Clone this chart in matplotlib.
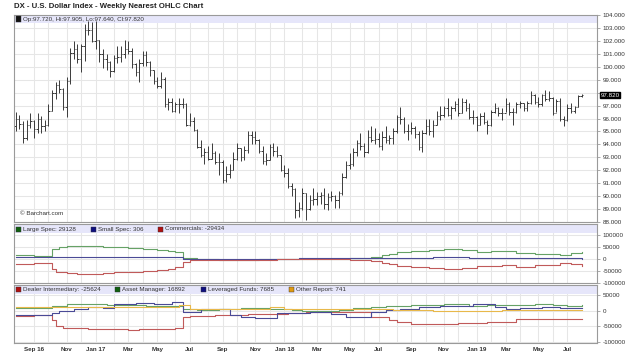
import matplotlib
matplotlib.use('Agg')
import matplotlib.pyplot as plt
from matplotlib.patches import Rectangle
from matplotlib.transforms import blended_transform_factory
import numpy as np
import pandas as pd

# weekly OHLC, weeks starting 2016-08-01
opens = [95.4, 96.0, 95.6, 94.5, 95.5, 95.8, 95.2, 96.0, 95.4, 95.5,
         96.6, 98.0, 98.6, 98.3, 96.9, 98.9, 101.1, 101.4, 100.6, 101.6,
         102.9, 102.9, 102.0, 102.1, 101.0, 100.6, 100.4, 99.7, 100.7, 100.8,
         101.0, 101.4, 101.2, 100.2, 99.6, 100.3, 100.9, 100.4, 99.8, 98.9,
         98.5, 99.1, 97.1, 97.3, 96.6, 97.1, 97.1, 97.1, 95.5, 95.8,
         95.1, 93.8, 93.2, 93.4, 92.9, 93.3, 92.6, 92.6, 91.2, 91.7,
         92.0, 92.9, 93.7, 93.0, 93.6, 94.7, 94.6, 94.3, 93.5, 92.7,
         92.8, 93.8, 93.5, 93.2, 92.0, 91.8, 90.8, 90.5, 88.9, 89.1,
         90.2, 89.0, 89.7, 89.8, 90.0, 90.1, 89.4, 89.9, 90.0, 89.7,
         90.2, 91.5, 92.4, 92.5, 93.4, 94.1, 93.9, 93.4, 94.6, 94.3,
         94.4, 93.9, 94.6, 94.3, 94.5, 95.0, 96.1, 96.0, 95.0, 95.0,
         95.3, 94.8, 93.8, 94.9, 95.4, 95.0, 95.5, 96.2, 96.3, 96.8,
         96.3, 96.8, 97.1, 96.4, 97.3, 96.8, 96.1, 96.1, 95.5, 96.2,
         95.7, 95.5, 96.5, 96.8, 96.4, 96.4, 97.1, 96.5, 96.5, 97.1,
         97.2, 96.8, 97.2, 97.8, 97.3, 97.1, 97.8, 97.5, 97.6, 96.4,
         97.4, 96.0, 95.9, 96.8, 96.6, 96.9, 97.72]
highs = [96.5, 96.3, 95.8, 95.9, 96.4, 95.9, 96.4, 96.2, 95.9, 97.1,
         98.2, 98.8, 99.0, 98.4, 99.2, 101.5, 102.0, 101.8, 101.8, 103.3,
         103.6, 103.5, 103.6, 102.1, 101.4, 101.0, 100.5, 100.9, 101.6, 101.6,
         102.1, 102.0, 101.5, 100.3, 100.6, 101.2, 101.2, 100.5, 99.8, 99.2,
         99.6, 99.2, 97.6, 97.6, 97.3, 97.6, 97.6, 97.2, 96.4, 96.1,
         95.2, 94.3, 93.7, 93.9, 94.1, 93.5, 93.3, 92.8, 92.3, 92.5,
         93.4, 94.1, 93.7, 93.9, 95.0, 95.0, 95.0, 94.4, 93.9, 93.3,
         94.0, 94.1, 93.9, 93.2, 92.4, 92.2, 91.0, 90.6, 89.5, 90.6,
         90.2, 90.1, 90.6, 90.3, 90.3, 90.6, 90.2, 90.4, 90.1, 90.4,
         91.8, 92.7, 93.3, 93.7, 94.3, 94.9, 94.1, 95.1, 95.4, 95.3,
         94.9, 95.0, 95.4, 94.7, 95.3, 96.3, 96.9, 96.1, 95.6, 95.7,
         95.4, 95.0, 95.1, 96.0, 96.0, 95.9, 96.6, 97.0, 97.0, 97.6,
         97.0, 97.4, 97.6, 97.6, 97.5, 97.2, 96.7, 96.2, 96.4, 96.5,
         95.9, 96.7, 97.2, 96.9, 96.8, 97.6, 97.3, 96.8, 97.3, 97.4,
         97.2, 97.4, 98.1, 97.9, 97.7, 97.9, 98.2, 98.1, 97.7, 97.5,
         97.6, 96.2, 97.1, 97.2, 97.0, 97.8, 97.905]
lows = [95.0, 95.2, 94.1, 94.3, 95.3, 94.5, 94.9, 94.9, 95.0, 95.4,
        96.6, 97.5, 98.0, 96.7, 96.1, 98.7, 100.6, 100.3, 99.6, 100.5,
        102.5, 101.9, 101.4, 100.4, 99.9, 99.8, 99.2, 99.6, 100.3, 100.4,
        100.7, 101.0, 99.9, 99.3, 98.8, 100.1, 100.1, 99.3, 98.7, 98.4,
        98.4, 96.9, 96.7, 96.5, 96.5, 96.4, 96.8, 95.4, 95.4, 95.0,
        93.7, 93.0, 92.5, 92.8, 92.9, 92.5, 91.6, 91.0, 91.1, 91.4,
        92.0, 92.8, 92.7, 92.8, 93.3, 94.0, 94.0, 93.3, 92.5, 92.4,
        92.8, 93.1, 93.0, 91.9, 91.5, 90.6, 90.0, 88.3, 88.4, 88.9,
        88.1, 88.9, 89.3, 89.3, 89.4, 89.0, 88.9, 89.6, 89.1, 89.1,
        90.1, 91.4, 92.1, 92.3, 93.1, 93.6, 93.0, 93.3, 94.2, 94.0,
        93.8, 93.6, 94.1, 94.0, 94.0, 94.9, 95.6, 94.9, 94.3, 94.8,
        94.5, 93.6, 93.4, 94.8, 94.7, 94.6, 95.5, 95.9, 96.1, 96.2,
        96.0, 96.6, 96.2, 96.4, 96.6, 96.0, 95.6, 95.0, 95.5, 95.6,
        94.8, 95.4, 96.4, 96.2, 95.9, 96.5, 96.3, 95.5, 96.4, 96.8,
        96.6, 96.6, 97.1, 97.1, 96.9, 97.0, 97.4, 97.4, 96.3, 96.5,
        95.8, 95.4, 95.8, 96.4, 96.4, 96.9, 97.64]
closes = [96.0, 95.6, 94.5, 95.5, 95.8, 95.2, 96.0, 95.4, 95.5, 96.6,
          98.0, 98.6, 98.3, 96.9, 98.9, 101.1, 101.4, 100.6, 101.6, 102.9,
          102.9, 102.0, 102.1, 101.0, 100.6, 100.4, 99.7, 100.7, 100.8, 101.0,
          101.4, 101.2, 100.2, 99.6, 100.3, 100.9, 100.4, 99.8, 98.9, 98.5,
          99.1, 97.1, 97.3, 96.6, 97.1, 97.1, 97.1, 95.5, 95.8, 95.1,
          93.8, 93.2, 93.4, 92.9, 93.3, 92.6, 92.6, 91.2, 91.7, 92.0,
          92.9, 93.7, 93.0, 93.6, 94.7, 94.6, 94.3, 93.5, 92.7, 92.8,
          93.8, 93.5, 93.2, 92.0, 91.8, 90.8, 90.5, 88.9, 89.1, 90.2,
          89.0, 89.7, 89.8, 90.0, 90.1, 89.4, 89.9, 90.0, 89.7, 90.2,
          91.5, 92.4, 92.5, 93.4, 94.1, 93.9, 93.4, 94.6, 94.3, 94.4,
          93.9, 94.6, 94.3, 94.5, 95.0, 96.1, 96.0, 95.0, 95.0, 95.3,
          94.8, 93.8, 94.9, 95.4, 95.0, 95.5, 96.2, 96.3, 96.8, 96.3,
          96.8, 97.1, 96.4, 97.3, 96.8, 96.1, 96.1, 95.5, 96.2, 95.7,
          95.5, 96.5, 96.8, 96.4, 96.4, 97.1, 96.5, 96.5, 97.1, 97.2,
          96.8, 97.2, 97.8, 97.3, 97.1, 97.8, 97.5, 97.6, 96.4, 97.4,
          96.0, 95.9, 96.8, 96.6, 96.9, 97.72, 97.82]

# COT legacy (week index of change, net position)
large_spec_wk = [0, 5, 10, 12, 14, 17, 24, 27, 31, 35, 39, 42, 44, 46, 50, 56, 60, 67, 72,
                 78, 85, 92, 98, 101, 103, 105, 109, 114, 118, 123, 127, 131, 138, 143, 150, 153, 156]
large_spec = [16000, 14000, 44000, 51000, 55000, 56000, 52000, 49000, 46000, 42000, 38000,
              33000, 28000, 4000, 1000, -3000, -6000, -2000, 0, 2000, 1000, 4000, 10000, 17000,
              23000, 28000, 33000, 38000, 43000, 37000, 31000, 34000, 24000, 22000, 15000, 26000, 29128]
small_spec_wk = [0, 10, 20, 30, 46, 55, 65, 78, 90, 100, 115, 125, 140, 150, 156]
small_spec = [9000, 8000, 9500, 8000, 2000, 0, 1500, 3000, 4000, 5500, 7000, 5000, 5500, 3000, 306]
comm_wk = [0, 5, 10, 11, 14, 17, 24, 27, 31, 35, 39, 42, 44, 46, 48, 56, 65, 72, 78, 92, 98,
           101, 103, 105, 109, 114, 118, 123, 127, 134, 138, 143, 150, 153, 156]
comm = [-22000, -19000, -41000, -55000, -59000, -62000, -59000, -57000, -55000, -51000, -47000,
        -42000, -36000, -13000, -3000, -6000, -4000, -1000, -1000, -4000, -8000, -15000, -21000,
        -28000, -32000, -38000, -42000, -37000, -30000, -26000, -32000, -27000, -18000, -23000, -29434]

# COT financial
dealer_wk = [0, 5, 10, 11, 13, 20, 31, 34, 40, 44, 46, 48, 55, 64, 70, 75, 80, 92, 98, 103,
             105, 109, 115, 122, 130, 138, 145, 156]
dealer = [-17000, -15000, -30000, -50000, -55000, -58000, -63000, -60000, -58000, -57000,
          -20000, -17000, -15000, -12000, -9000, -7000, -4000, -4000, -20000, -31000,
          -36000, -41700, -43000, -39000, -36000, -25600, -27000, -25624]
asset_wk = [0, 5, 10, 14, 20, 25, 30, 36, 42, 46, 50, 56, 62, 70, 76, 79, 89, 93, 98, 102,
            109, 118, 125, 130, 136, 143, 148, 152, 156]
asset = [8700, 9000, 15000, 20000, 22000, 19000, 17000, 16000, 14000, 5000, 3000, 6000, 8000,
         6000, 2000, -2000, 1000, 8000, 12000, 15000, 17000, 20000, 15000, 17000, 19000, 22000,
         17000, 14000, 16892]
lev_wk = [0, 10, 12, 16, 20, 24, 27, 33, 38, 43, 46, 51, 59, 62, 66, 72, 76, 81, 87, 91, 98,
          102, 106, 111, 117, 126, 132, 135, 139, 145, 150, 156]
lev = [-13000, -8000, 0, 6000, 12000, 10000, 20000, 24000, 22000, 28000, -3000, 6000, -15000,
       -20000, -22000, -8000, -6000, -5000, -12000, -20000, -4000, 1000, 6000, 12000, 14000,
       22000, 12000, 4000, 8000, 12000, 9000, 7685]
other_wk = [0, 10, 20, 35, 45, 48, 58, 63, 70, 74, 79, 90, 97, 104, 115, 134, 143, 156]
other = [11000, 12000, 13000, 11000, 17000, 4000, 4000, 6000, 12000, 5000, 6000, 4000, 5000,
         1000, 0, 1000, 1500, 741]

plt.rcParams['font.family'] = ['Liberation Sans', 'DejaVu Sans']

W, H = 640, 359
fig = plt.figure(figsize=(6.4, 3.59), dpi=100)
txt = '#333333'
band = '#e6e6fa'
bar_col = '#3a3a3a'


def add_pane(top, bottom, left=14, right=597):
    return fig.add_axes([left / W, 1 - bottom / H, (right - left) / W, (bottom - top) / H])


ax1 = add_pane(15, 222)
ax2 = add_pane(224, 283)
ax3 = add_pane(285, 342.5)

x = np.arange(len(closes))
weeks = pd.date_range('2016-08-01', periods=len(closes), freq='7D')
month_idx = [i for i in range(1, len(weeks)) if weeks[i].month != weeks[i - 1].month]
month_lbl = []
for k, i in enumerate(month_idx):
    d = weeks[i]
    if k % 2 == 0:
        s = d.strftime('%b')
        if d.month == 1 or k == 0:
            s += d.strftime(' %y')
        month_lbl.append(s)
    else:
        month_lbl.append('')

for ax, band_px in [(ax1, 8), (ax2, 9), (ax3, 9)]:
    ax.set_xlim(-0.5, 160.2)
    ax.set_xticks(month_idx)
    ax.set_axisbelow(True)
    ax.grid(True, color='#e6e6e6', lw=0.75)
    for s in ax.spines.values():
        s.set_color('#9a9a9a')
        s.set_linewidth(0.8)
    ax.yaxis.tick_right()
    ax.tick_params(axis='y', direction='out', length=2.5, width=0.5, color='#888888',
                   labelsize=4.5, labelcolor=txt, pad=1.5)
    ax.tick_params(axis='x', length=0)
    h = band_px / (ax.get_position().height * H)
    ax.add_patch(Rectangle((0, 1 - h), 1, h, transform=ax.transAxes, facecolor=band,
                           edgecolor='none', zorder=1))

ax1.set_xticklabels([])
ax2.set_xticklabels([])
ax3.set_xticklabels(month_lbl, fontsize=4.5, fontweight='bold', color=txt)
ax3.tick_params(axis='x', pad=3)

# price pane
ax1.vlines(x, lows, highs, color=bar_col, lw=0.7, zorder=2)
ax1.hlines(opens, x - 0.4, x, color=bar_col, lw=0.7, zorder=2)
ax1.hlines(closes, x, x + 0.4, color=bar_col, lw=0.7, zorder=2)
ax1.set_ylim(87.98, 104.03)
price_ticks = np.arange(88, 105, 1)
ax1.set_yticks(price_ticks)
# the 98 label sits under the last-price box
ax1.set_yticklabels(['' if t == 98 else '%.3f' % t for t in price_ticks])
tr = blended_transform_factory(ax1.transAxes, ax1.transData)
ax1.text(1.006, closes[-1], '%.3f' % closes[-1], transform=tr, fontsize=4.5, color='white',
         va='center', ha='left', zorder=10, clip_on=False,
         bbox=dict(facecolor='black', edgecolor='black', pad=0.6))
ax1.text(0.011, 0.035, '© Barchart.com', transform=ax1.transAxes, fontsize=4.5, color=txt,
         zorder=3)

# legacy COT pane
ax2.step(large_spec_wk, large_spec, where='post', color='#66a266', lw=0.8, zorder=2)
ax2.step(small_spec_wk, small_spec, where='post', color='#4a4a96', lw=0.8, zorder=2)
ax2.step(comm_wk, comm, where='post', color='#c05a5a', lw=0.8, zorder=2)
ax2.set_ylim(-101700, 148300)
ax2.set_yticks([100000, 50000, 0, -50000, -100000])
ax2.yaxis.set_major_formatter(plt.FormatStrFormatter('%d'))

# financial COT pane
ax3.step(dealer_wk, dealer, where='post', color='#c05a5a', lw=0.8, zorder=2)
ax3.step(asset_wk, asset, where='post', color='#66a266', lw=0.8, zorder=2)
ax3.step(lev_wk, lev, where='post', color='#4a4a96', lw=0.8, zorder=2)
ax3.step(other_wk, other, where='post', color='#e8b84a', lw=0.8, zorder=2)
ax3.set_ylim(-101900, 82400)
ax3.set_yticks([50000, 0, -50000, -100000])
ax3.yaxis.set_major_formatter(plt.FormatStrFormatter('%d'))

# title and header rows
fig.text(14 / W, 1 - 7 / H, 'DX - U.S. Dollar Index - Weekly Nearest OHLC Chart',
         fontsize=5.6, fontweight='bold', color='#222222', va='center')


def header(items, y):
    for label, color, xs in items:
        fig.add_artist(Rectangle(((xs) / W, 1 - (y + 2.5) / H), 5 / W, 5 / H,
                                 transform=fig.transFigure, facecolor=color,
                                 edgecolor='#333333', lw=0.3))
        fig.text((xs + 7) / W, 1 - y / H, label, fontsize=4.5, color=txt, va='center')


header([('Op:97.720, Hi:97.905, Lo:97.640, Cl:97.820', '#111111', 16)], 19)
header([('Large Spec: %d' % large_spec[-1], '#106010', 16),
        ('Small Spec: %d' % small_spec[-1], '#101080', 91),
        ('Commercials: %d' % comm[-1], '#b01010', 158)], 229)
header([('Dealer Intermediary: %d' % dealer[-1], '#b01010', 16),
        ('Asset Manager: %d' % asset[-1], '#106010', 115),
        ('Leveraged Funds: %d' % lev[-1], '#101080', 201),
        ('Other Report: %d' % other[-1], '#e09a10', 289)], 289.5)

fig.savefig('out.png', dpi=100)
